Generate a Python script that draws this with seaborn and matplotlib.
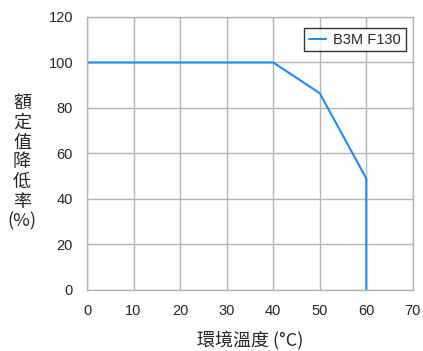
import numpy as np
import pandas as pd
import seaborn as sns
import matplotlib.pyplot as plt

temps = [0, 40, 50, 60, 60]
ratios = [100, 100, 86.5, 49, 0]
series_name = "B3M F130"
xticks = [0, 10, 20, 30, 40, 50, 60, 70]
yticks = [0, 20, 40, 60, 80, 100, 120]

sns.set_style("white")
plt.rcParams['font.family'] = ['Liberation Sans', 'Noto Sans CJK TC', 'DejaVu Sans']

data = pd.DataFrame({"temp": temps, "ratio": ratios})

fi = plt.figure(figsize=(4.23, 3.51), dpi=100)
ax = fi.add_axes([0.2057, 0.1738, 0.7703, 0.7778])

sns.lineplot(data=data, x="temp", y="ratio", sort=False, estimator=None,
             color="#1a8cff", linewidth=1.5, label=series_name, ax=ax)

ax.set_xlim(0, 70)
ax.set_ylim(0, 120)
ax.set_xticks(xticks)
ax.set_yticks(yticks)
ax.grid(True, color="#b4b4b4", linewidth=1)
for sp in ax.spines.values():
    sp.set_color("#b4b4b4")
    sp.set_linewidth(1)
ax.tick_params(axis='both', length=0, labelsize=10.5, pad=10)

ax.set_xlabel("環境溫度 (°C)", fontsize=13, labelpad=9,
              family=['Noto Sans CJK TC', 'DejaVu Sans'])
ax.set_ylabel("")
fi.text(0.052, 0.537, "額\n定\n值\n降\n低\n率\n(%)", ha='center', va='center',
        fontsize=13, linespacing=1.12,
        family=['Noto Sans CJK TC', 'DejaVu Sans'])

leg = ax.legend(loc='upper right', fontsize=10.5, frameon=True, fancybox=False,
                handlelength=1.2, handletextpad=0.5, borderpad=0.3,
                bbox_to_anchor=(1.0, 0.985))
leg.get_frame().set_edgecolor("black")
leg.get_frame().set_linewidth(1)

fi.savefig("out.png", dpi=100)
